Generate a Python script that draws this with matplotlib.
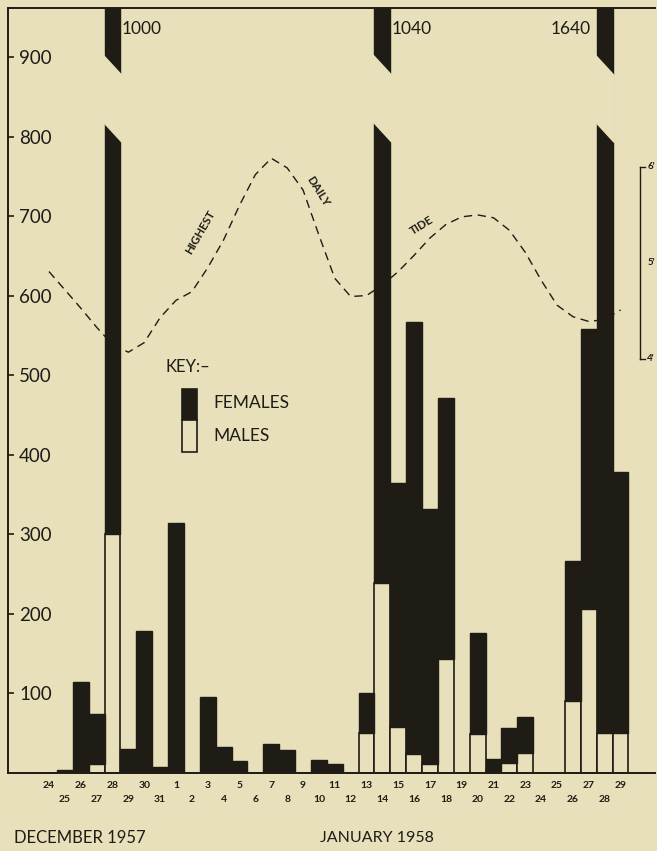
import matplotlib
matplotlib.use("Agg")
import matplotlib.pyplot as plt
import matplotlib.transforms as mtransforms
from matplotlib.patches import Polygon, Rectangle
import numpy as np

plt.rcParams['font.family'] = ['Lato', 'DejaVu Sans']

# data ---------------------------------------------------------------
day_labels = ['24', '25', '26', '27', '28', '29', '30', '31',
              '1', '2', '3', '4', '5', '6', '7', '8', '9', '10', '11', '12',
              '13', '14', '15', '16', '17', '18', '19', '20', '21', '22',
              '23', '24', '25', '26', '27', '28', '29']
males = [0, 0, 0, 11, 300, 0, 0, 0,
         0, 0, 0, 0, 0, 0, 0, 0, 0, 0, 0, 0,
         50, 239, 58, 24, 11, 143, 0, 49, 3, 12,
         25, 0, 0, 91, 206, 50, 50]
females = [0, 4, 115, 63, 700, 30, 178, 7,
           314, 0, 95, 33, 15, 0, 36, 29, 0, 16, 11, 0,
           50, 801, 306, 543, 321, 329, 0, 127, 14, 45,
           45, 0, 0, 176, 352, 1590, 329]
# highest daily tide, feet
tide = [4.91, 4.72, 4.53, 4.33, 4.15, 4.07, 4.17, 4.43,
        4.61, 4.70, 4.95, 5.24, 5.60, 5.92, 6.09, 5.99, 5.76, 5.29, 4.84, 4.65,
        4.66, 4.77, 4.91, 5.08, 5.26, 5.40, 5.48, 5.50, 5.47, 5.34,
        5.11, 4.82, 4.56, 4.44, 4.39, 4.41, 4.51]
yticks = [100, 200, 300, 400, 500, 600, 700, 800, 900]
tide_ticks = [4, 5, 6]

BG = '#e7e0bb'
DARK = '#1e1c15'

x = np.arange(len(day_labels))
totals = np.array(males) + np.array(females)

fig = plt.figure(figsize=(6.57, 8.51), dpi=100, facecolor=BG)
ax = fig.add_axes([0.0122, 0.0917, 0.985, 0.899])
ax.set_facecolor(BG)

ax.bar(x, males, width=1.0, color=BG, edgecolor=DARK, linewidth=1.2, zorder=2)
ax.bar(x, females, width=1.0, bottom=males, color=DARK, edgecolor=DARK,
       linewidth=1.0, zorder=2)

ax.set_xlim(-2.58, 38.18)
ax.set_ylim(0, 962)

# broken bars (off the scale) -------------------------------------------
for i in range(len(x)):
    if totals[i] > 962:
        xl, xr = x[i] - 0.6, x[i] + 0.6
        gap = Polygon([(xl, 819), (xr, 793), (xr, 877), (xl, 903)],
                      closed=True, facecolor=BG, edgecolor=BG,
                      linewidth=1.0, zorder=3)
        ax.add_patch(gap)
        if i == 35:
            ax.text(x[i] - 0.85, 936, str(totals[i]), ha='right', va='center',
                    fontsize=12.5, color=DARK, zorder=4)
        else:
            ax.text(x[i] + 0.6, 936, str(totals[i]), ha='left', va='center',
                    fontsize=12.5, color=DARK, zorder=4)

# axes styling ----------------------------------------------------------
for s in ['left', 'top', 'bottom']:
    ax.spines[s].set_color(DARK)
    ax.spines[s].set_linewidth(1.4)
ax.spines['right'].set_visible(False)
ax.set_xticks([])
ax.set_yticks(yticks)
ax.set_yticklabels([str(v) for v in yticks])
ax.tick_params(axis='y', direction='in', length=4, width=1.2, pad=-8,
               labelsize=13.5, colors=DARK)
for lab in ax.get_yticklabels():
    lab.set_horizontalalignment('left')

trans = mtransforms.blended_transform_factory(ax.transData, ax.transAxes)
for i, lab in enumerate(day_labels):
    yy = -0.0165 if i % 2 == 0 else -0.035
    ax.text(x[i], yy, lab, transform=trans, ha='center', va='center',
            fontsize=7.5, fontweight='bold', color=DARK)

fig.text(0.0213, 0.0153, 'DECEMBER 1957', ha='left', va='center',
         fontsize=12, color=DARK)
fig.text(0.487, 0.0153, 'JANUARY 1958', ha='left', va='center',
         fontsize=11.5, color=DARK)

# tide ------------------------------------------------------------------
ax2 = ax.twinx()
ax2.set_ylim(-0.3125, 7.656)
ax2.plot(x, tide, color=DARK, linewidth=1.0, linestyle=(0, (6, 4)), zorder=5)
ax2.axis('off')

tr2 = mtransforms.blended_transform_factory(ax2.transAxes, ax2.transData)
ax2.plot([0.977, 0.977], [tide_ticks[0], tide_ticks[-1]], color=DARK,
         linewidth=1.0, transform=tr2)
for t in [tide_ticks[0], tide_ticks[-1]]:
    ax2.plot([0.977, 0.985], [t, t], color=DARK, linewidth=1.0, transform=tr2)
for t in tide_ticks:
    ax2.text(0.988, t, "%d'" % t, transform=tr2, ha='left', va='center',
             fontsize=7, fontweight='bold', color=DARK)

ax.text(9.55, 680, 'HIGHEST', rotation=60, ha='center', va='center',
        fontsize=8.3, fontweight='bold', color=DARK)
ax.text(16.95, 732, 'DAILY', rotation=-58, ha='center', va='center',
        fontsize=8.3, fontweight='bold', color=DARK)
ax.text(23.5, 688, 'TIDE', rotation=32, ha='center', va='center',
        fontsize=8.3, fontweight='bold', color=DARK)

# key -------------------------------------------------------------------
ax.text(0.243, 0.531, 'KEY:\u2013', transform=ax.transAxes, ha='left',
        va='center', fontsize=12, color=DARK)
ax.add_patch(Rectangle((0.269, 0.461), 0.023, 0.041, transform=ax.transAxes,
                       facecolor=DARK, edgecolor=DARK, linewidth=1.2))
ax.add_patch(Rectangle((0.269, 0.4196), 0.023, 0.0414, transform=ax.transAxes,
                       facecolor=BG, edgecolor=DARK, linewidth=1.2))
ax.text(0.317, 0.484, 'FEMALES', transform=ax.transAxes, ha='left',
        va='center', fontsize=12.5, color=DARK)
ax.text(0.317, 0.4405, 'MALES', transform=ax.transAxes, ha='left',
        va='center', fontsize=12.5, color=DARK)

fig.savefig('out.png', dpi=100, facecolor=BG)
